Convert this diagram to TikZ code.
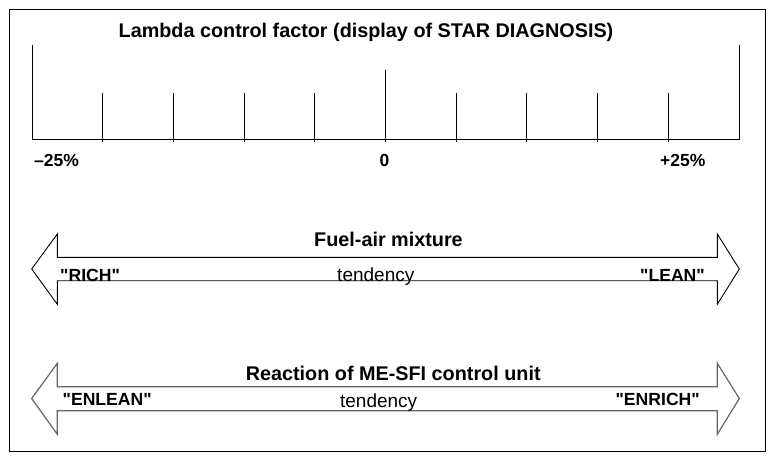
\documentclass[tikz,border=0pt]{standalone}
\usepackage{fontspec}
\setmainfont{Liberation Sans}
\newcommand{\qd}{\textquotedbl}
\begin{document}
\begin{tikzpicture}[x=1pt,y=-1pt,
  frame/.style={draw=black,line width=1pt},
  scaleline/.style={draw=black,line width=1pt},
  arrowA/.style={draw=black,line width=0.9pt,line join=miter},
  arrowB/.style={draw=black!60,line width=1.2pt,line join=miter},
  titletxt/.style={inner sep=0pt,anchor=base,font=\bfseries\fontsize{19.8}{22}\selectfont},
  scaletxt/.style={inner sep=0pt,anchor=base,font=\bfseries\fontsize{17.5}{20}\selectfont},
  endtxt/.style={inner sep=0pt,font=\bfseries\fontsize{17.6}{20}\selectfont},
  tendtxt/.style={inner sep=0pt,anchor=base,font=\fontsize{19}{22}\selectfont}]
\useasboundingbox (0,0) rectangle (774,461);
\fill[white] (0,0) rectangle (774,461);
% frame
\draw[frame] (9,9) rectangle (765,451);
% title
\node[titletxt] (title) at (366,37.3) {Lambda control factor (display of STAR DIAGNOSIS)};
% scale
\coordinate (sl) at (32,139);
\coordinate (sr) at (739,139);
\draw[scaleline] (32,45) -- (sl) -- (sr) -- (739,45);
\foreach \x in {102.7,173.4,244.1,314.8,456.2,526.9,597.6,668.3}
  \draw[scaleline] (\x,93) -- (\x,142);
\draw[scaleline] (385.5,70) -- (385.5,142);
\node[scaletxt,anchor=base west] (lm) at (34,166.7) {–25\%};
\node[scaletxt] (lz) at (384.5,166.7) {0};
\node[scaletxt,anchor=base west] (lp) at (660,166.7) {+25\%};
% arrow 1 texts
\node[titletxt] (fa) at (388.5,246.7) {Fuel-air mixture};
\node[endtxt,anchor=base west] (rich) at (60,281.7) {\qd RICH\qd};
\node[tendtxt] (t1) at (375.8,281.7) {tendency};
\node[endtxt,anchor=base east] (lean) at (705,281.7) {\qd LEAN\qd};
% arrow 1
\draw[arrowA] (57.3,257.3) -- (717.3,257.3) -- (717.3,234) -- (739.3,269)
  -- (717.3,304.3) -- (717.3,280.7) -- (57.3,280.7) -- (57.3,304.3)
  -- (31.7,269) -- (57.3,234) -- cycle;
% arrow 2
\draw[arrowB] (57.3,386.7) -- (717.3,386.7) -- (717.3,363.3) -- (739.3,398.5)
  -- (717.3,434.3) -- (717.3,410.7) -- (57.3,410.7) -- (57.3,434.3)
  -- (31.7,398.5) -- (57.3,363.3) -- cycle;
\node[titletxt] (re) at (393.2,380) {Reaction of ME-SFI control unit};
\node[endtxt,anchor=base west] (enl) at (62.5,405.7) {\qd ENLEAN\qd};
\node[tendtxt] (t2) at (378.7,407.7) {tendency};
\node[endtxt,anchor=base east] (enr) at (700,405.7) {\qd ENRICH\qd};
\end{tikzpicture}
\end{document}
